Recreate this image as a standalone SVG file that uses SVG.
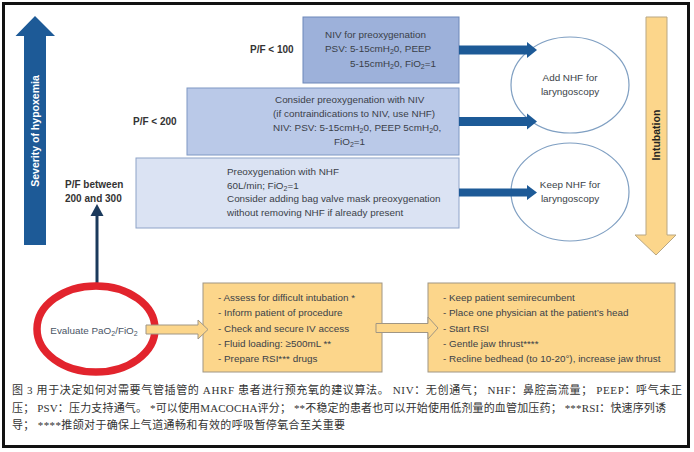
<svg xmlns="http://www.w3.org/2000/svg" width="694" height="452" viewBox="0 0 694 452">
<style>
text{font-family:"Liberation Sans",Arial,sans-serif;}
.t{font-size:9.9px;fill:#3a3f48;}
.b{font-size:10px;font-weight:bold;fill:#333;}
.s{font-size:7px;}
.cap{font-family:"Liberation Serif","Noto Sans CJK SC",serif;font-size:11px;fill:#333;}
.ell{fill:#fff;stroke:#7f9fc2;stroke-width:1.2;}
.blu{fill:#1d5a97;}
.org{fill:#fcd68b;stroke:#a09684;stroke-width:1;}
</style>
<rect x="3.5" y="3.5" width="685" height="443" fill="#fff" stroke="#111" stroke-width="3"/>

<g id="severity-arrow">
<polygon class="blu" points="24,36 15.5,36 35,16 55,36 46,36 46,245 24,245"/>
<text transform="translate(39,131) rotate(-90)" text-anchor="middle" style="font-size:10.5px;font-weight:bold;fill:#fff">Severity of hypoxemia</text>
</g>

<g id="intubation-arrow">
<polygon class="org" style="fill:#fcd68b;stroke:#b9a783" points="646,17 667,17 667,235 676,235 656,255 635,235 646,235"/>
<text transform="translate(660,135) rotate(-90)" text-anchor="middle" style="font-size:10.5px;font-weight:bold;fill:#222">Intubation</text>
</g>

<g id="labels">
<text class="b" x="250" y="53">P/F &lt; 100</text>
<text class="b" x="133" y="125">P/F &lt; 200</text>
<text class="b" x="65" y="188">P/F between</text>
<text class="b" x="65" y="202">200 and 300</text>
</g>

<g id="box-pf100">
<rect x="303" y="17" width="156" height="66" fill="#9db1da" stroke="#6d87b9"/>
<text class="t" x="325" y="38">NIV for preoxygenation</text>
<text class="t" x="325" y="52">PSV: 5-15cmH<tspan class="s" dy="2">2</tspan><tspan dy="-2">0, PEEP</tspan></text>
<text class="t" x="350" y="67">5-15cmH<tspan class="s" dy="2">2</tspan><tspan dy="-2">0, FiO</tspan><tspan class="s" dy="2">2</tspan><tspan dy="-2">=1</tspan></text>
</g>

<g id="box-pf200">
<rect x="187" y="88" width="272" height="67" fill="#bac9e8" stroke="#7f98c4"/>
<text class="t" x="275" y="103">Consider preoxygenation with NIV</text>
<text class="t" x="273" y="117">(if contraindications to NIV, use NHF)</text>
<text class="t" x="273" y="131">NIV: PSV: 5-15cmH<tspan class="s" dy="2">2</tspan><tspan dy="-2">0, PEEP 5cmH</tspan><tspan class="s" dy="2">2</tspan><tspan dy="-2">0,</tspan></text>
<text class="t" x="334" y="145">FiO<tspan class="s" dy="2">2</tspan><tspan dy="-2">=1</tspan></text>
</g>

<g id="box-pf300">
<rect x="136" y="158" width="323" height="70" fill="#dbe3f3" stroke="#8ea3c8"/>
<text class="t" x="227" y="175">Preoxygenation with NHF</text>
<text class="t" x="227" y="189">60L/min; FiO<tspan class="s" dy="2">2</tspan><tspan dy="-2">=1</tspan></text>
<text class="t" x="227" y="202">Consider adding bag valve mask preoxygenation</text>
<text class="t" x="227" y="216">without removing NHF if already present</text>
</g>

<g id="node-add-nhf">
<ellipse class="ell" cx="570" cy="85" rx="59" ry="48"/>
<text class="t" x="570" y="81" text-anchor="middle">Add NHF for</text>
<text class="t" x="570" y="95" text-anchor="middle">laryngoscopy</text>
</g>

<g id="node-keep-nhf">
<ellipse class="ell" cx="570" cy="192" rx="59" ry="49"/>
<text class="t" x="570" y="188" text-anchor="middle">Keep NHF for</text>
<text class="t" x="570" y="202" text-anchor="middle">laryngoscopy</text>
</g>

<g id="connectors">
<polygon class="blu" points="459,45.5 527,45.5 527,42 537,50 527,58 527,54.5 459,54.5"/>
<polygon class="blu" points="459,117 527,117 527,113.5 537,121.5 527,129.5 527,126 459,126"/>
<polygon class="blu" points="459,188.5 527,188.5 527,185 537,192.5 527,200 527,196.5 459,196.5"/>
<line x1="97" y1="290" x2="97" y2="214" stroke="#1b3a5c" stroke-width="3"/>
<polygon points="90.5,216 97,204 103.5,216" fill="#1b3a5c"/>
</g>

<g id="node-evaluate">
<ellipse cx="96" cy="329" rx="59" ry="43" fill="#fff" stroke="#e2242d" stroke-width="7.5"/>
<text class="t" x="94" y="334" text-anchor="middle" style="fill:#4a5566">Evaluate PaO<tspan class="s" dy="2">2</tspan><tspan dy="-2">/FiO</tspan><tspan class="s" dy="2">2</tspan></text>
</g>

<g id="box-prep">
<rect class="org" x="203" y="283" width="179" height="89"/>
<text class="t" x="218" y="300.5">- Assess for difficult intubation *</text>
<text class="t" x="218" y="316">- Inform patient of procedure</text>
<text class="t" x="218" y="331.5">- Check and secure IV access</text>
<text class="t" x="218" y="346.5">- Fluid loading: ≥500mL **</text>
<text class="t" x="218" y="362">- Prepare RSI*** drugs</text>
</g>

<g id="box-intubate">
<rect class="org" x="428" y="283" width="247" height="89"/>
<text class="t" x="443" y="301">- Keep patient semirecumbent</text>
<text class="t" x="443" y="316">- Place one physician at the patient’s head</text>
<text class="t" x="443" y="331.5">- Start RSI</text>
<text class="t" x="443" y="346.5">- Gentle jaw thrust****</text>
<text class="t" x="443" y="362">- Recline bedhead (to 10-20°), increase jaw thrust</text>
</g>

<g id="block-connectors">
<polygon class="org" points="146,325 198,325 198,320 208,329.5 198,339 198,334 146,334"/>
<polygon class="org" points="376,323.5 428,323.5 428,317 438,328 428,339 428,332.5 376,332.5"/>
</g>

<g id="caption">
<text class="cap" x="12" y="394" textLength="670" lengthAdjust="spacing">图 3 用于决定如何对需要气管插管的 AHRF 患者进行预充氧的建议算法。 NIV：无创通气； NHF：鼻腔高流量； PEEP：呼气末正</text>
<text class="cap" x="12" y="412" textLength="654" lengthAdjust="spacing">压； PSV：压力支持通气。 *可以使用MACOCHA评分； **不稳定的患者也可以开始使用低剂量的血管加压药； ***RSI：快速序列诱</text>
<text class="cap" x="12" y="429" textLength="333" lengthAdjust="spacing">导； ****推颌对于确保上气道通畅和有效的呼吸暂停氧合至关重要</text>
</g>
</svg>
